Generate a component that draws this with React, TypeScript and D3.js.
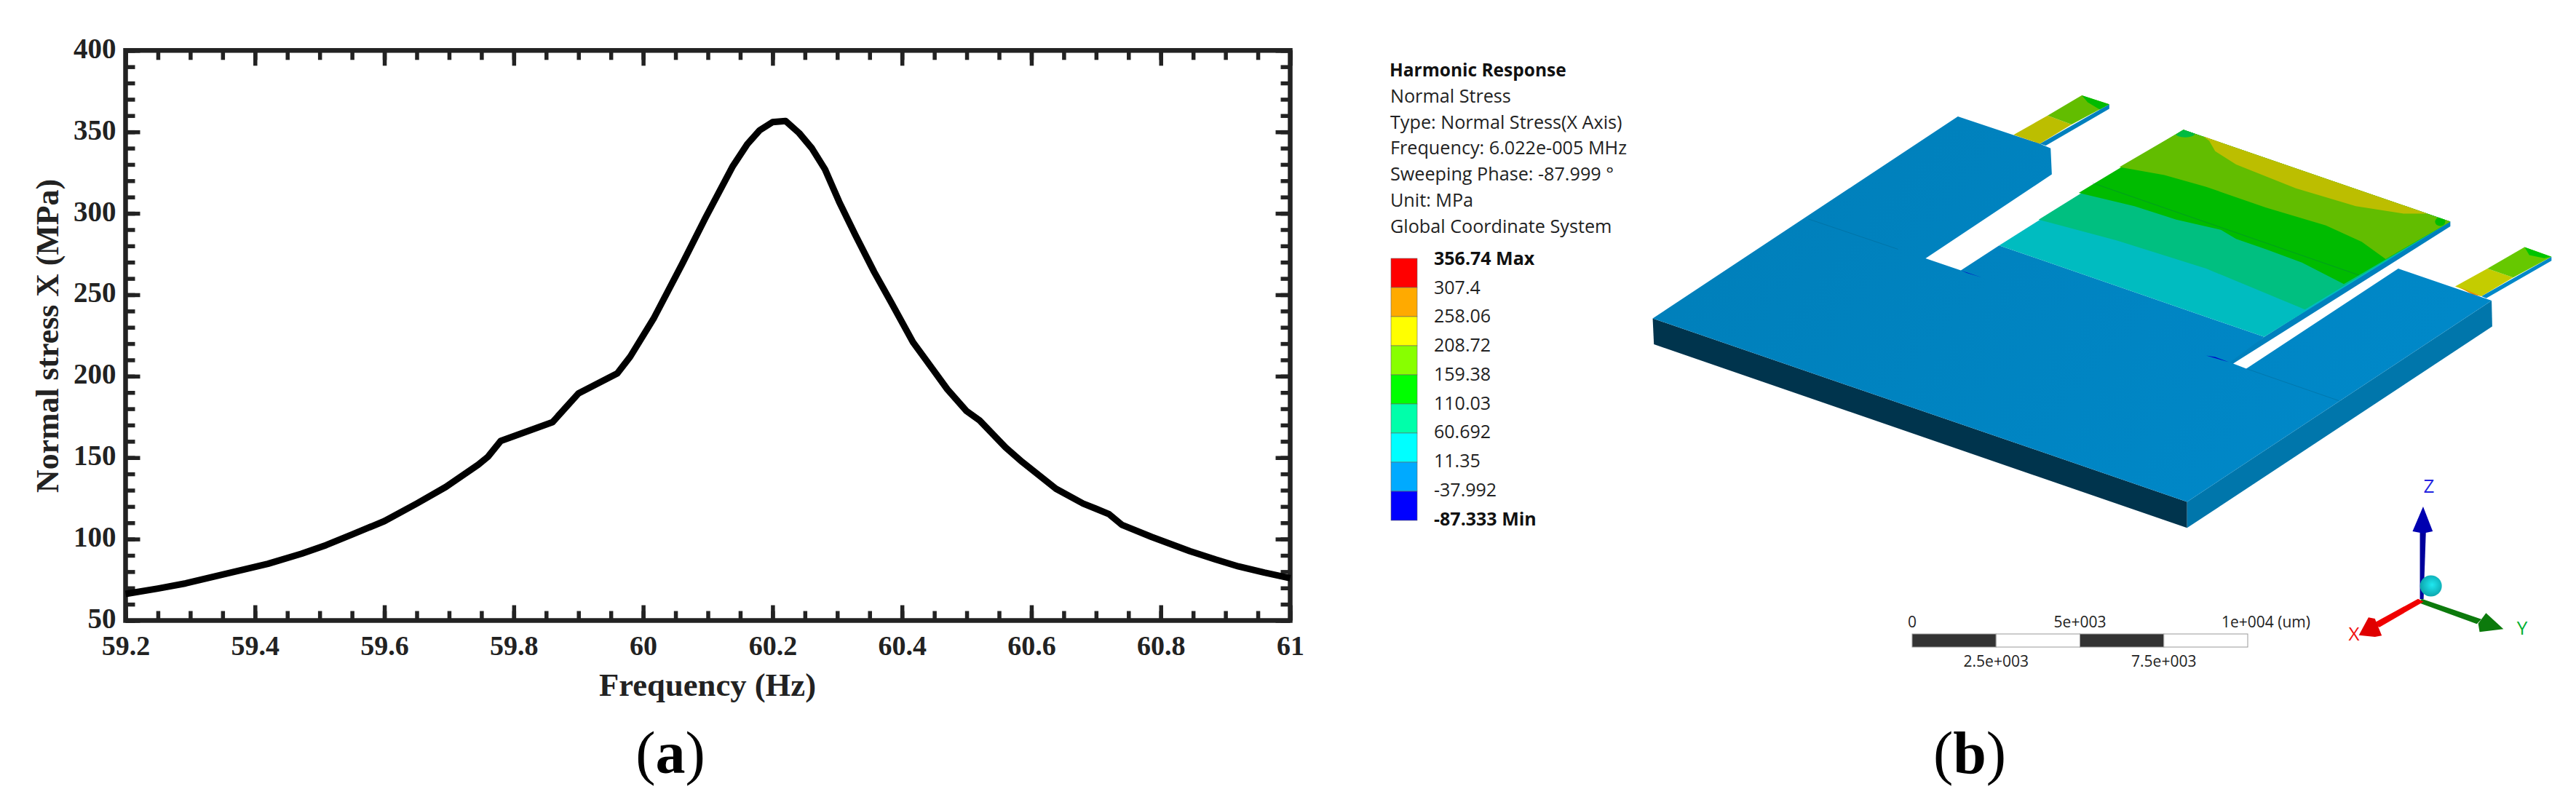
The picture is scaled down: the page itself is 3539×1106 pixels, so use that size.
import React, { useEffect, useRef } from "react";
import * as d3 from "d3";

const WIDTH = 3539;
const HEIGHT = 1106;

// panel (a)
const frequency = [
  59.2, 59.25, 59.293, 59.35, 59.42, 59.472, 59.51, 59.55, 59.6, 59.65, 59.695, 59.745, 59.76, 59.78, 59.86, 59.9,
  59.96, 59.98, 60.017, 60.06, 60.096, 60.138, 60.161, 60.18, 60.2, 60.22, 60.241, 60.261, 60.281,
  60.303, 60.328, 60.357, 60.383, 60.417, 60.438, 60.47, 60.5, 60.52, 60.56, 60.586, 60.638, 60.68,
  60.7, 60.72, 60.74, 60.786, 60.845, 60.885, 60.92, 60.96, 61,
];
const stress = [
  66.3, 69.6, 72.8, 78.2, 84.8, 91, 96.3, 102.8, 111, 121.8, 132, 145.6, 150.5, 160.3, 171.8, 189.4,
  201.7, 212, 236, 268.7, 297, 328.6, 342.5, 351, 356, 356.7, 349.3, 339.8, 327,
  307, 286.6, 264, 245.5, 220.9, 209.5, 192, 178.5, 172.8, 156.3, 147.3, 130.9, 121.8,
  118.6, 115.3, 108.7, 101.3, 92.6, 87.4, 83.2, 79.4, 76,
];
const xMajor = [59.2, 59.4, 59.6, 59.8, 60, 60.2, 60.4, 60.6, 60.8, 61];
const xMinor = d3.range(0, 37).map((i) => 59.2 + i * 0.05);
const yMajor = [50, 100, 150, 200, 250, 300, 350, 400];
const yMinor = d3.range(50, 401, 10);

// panel (b) legend
const legendTitle = "Harmonic Response";
const legendLines = [
  "Normal Stress",
  "Type: Normal Stress(X Axis)",
  "Frequency: 6.022e-005 MHz",
  "Sweeping Phase: -87.999 °",
  "Unit: MPa",
  "Global Coordinate System",
];
const bandColors = ["#ff0000", "#ffaa00", "#ffff00", "#88ff00", "#00ff00", "#00ffaa", "#00ffff", "#00aaff", "#0000ff"];
const bandLabels = ["356.74 Max", "307.4", "258.06", "208.72", "159.38", "110.03", "60.692", "11.35", "-37.992", "-87.333 Min"];
const scaleTop = ["0", "5e+003", "1e+004 (um)"];
const scaleBottom = ["2.5e+003", "7.5e+003"];

// model outline
type Pt = [number, number];
const frontFace: Pt[] = [[25, 778], [918, 1395], [918, 1483], [27, 865]];
const sideFace: Pt[] = [[918, 1395], [1427, 718], [1428, 805], [918, 1483]];
const topFace: Pt[] = [[25, 778], [535, 98], [672, 190], [690, 205], [692, 293], [481, 576], [540, 616], [604, 532], [1047, 840], [995, 930], [1017, 947], [1271, 610], [1427, 718], [918, 1395]];
const plateEdge: Pt[] = [[1047, 840], [1345, 462], [1358, 452], [1358, 468], [995, 930], [990, 925]];
const plateBase: Pt[] = [[912, 143], [1358, 452], [1047, 840], [604, 532]];
const tealBand: Pt[] = [[670, 445], [800, 515], [950, 610], [1115, 748], [1358, 452], [912, 143]];
const greenBand: Pt[] = [[737, 355], [830, 400], [900, 445], [975, 480], [1000, 510], [1050, 545], [1110, 590], [1180, 662], [1358, 452], [912, 143]];
const limeBand: Pt[] = [[805, 268], [880, 295], [950, 335], [1050, 405], [1150, 465], [1210, 520], [1250, 578], [1358, 452], [912, 143]];
const oliveBand: Pt[] = [[945, 165], [1320, 425], [1280, 425], [1200, 400], [1100, 340], [1000, 260], [965, 215], [955, 180]];
const leftTabEdge: Pt[] = [[672, 190], [788, 57], [788, 72], [682, 196]];
const leftTabOlive: Pt[] = [[628, 160], [685, 95], [725, 125], [672, 190]];
const leftTabLime: Pt[] = [[685, 95], [742, 27], [788, 57], [725, 125]];
const leftTabTip: Pt[] = [[742, 27], [788, 57], [772, 75], [752, 50]];
const leftTabHot: Pt[] = [[634, 165], [672, 190], [662, 186]];
const rightTabEdge: Pt[] = [[1410, 703], [1527, 570], [1527, 584], [1418, 710]];
const rightTabOlive: Pt[] = [[1366, 670], [1420, 610], [1463, 640], [1410, 703]];
const rightTabLime: Pt[] = [[1420, 610], [1482, 538], [1527, 570], [1463, 640]];
const rightTabTip: Pt[] = [[1482, 538], [1527, 570], [1515, 575], [1490, 565]];
const rightTabHot: Pt[] = [[1372, 672], [1410, 703], [1396, 698]];
const blueMarkA: Pt[] = [[540, 616], [575, 640], [550, 625]];
const blueMarkB: Pt[] = [[950, 903], [988, 925], [965, 908]];
const seams: Pt[][] = [[[285, 443], [435, 545]], [[1017, 947], [1172, 1055]], [[760, 322], [1205, 632]]];

// coordinate triad
const zShaft: Pt[] = [[1228, 430], [1228, 155], [1241, 155], [1236, 430]];
const zHead: Pt[] = [[1235, 48], [1256, 150], [1235, 158], [1212, 150]];
const xShaft: Pt[] = [[1224, 428], [1236, 440], [1140, 545], [1124, 532]];
const xHead: Pt[] = [[1095, 578], [1116, 505], [1130, 510], [1145, 580], [1130, 585]];
const yShaft: Pt[] = [[1232, 428], [1226, 445], [1352, 532], [1362, 512]];
const yHead: Pt[] = [[1410, 553], [1372, 487], [1355, 530], [1358, 565]];

export default function App() {
  const ref = useRef<SVGSVGElement>(null);

  useEffect(() => {
    const svg = d3.select(ref.current);
    svg.selectAll("*").remove();

    const ink = "#222222";
    const serif = "'Liberation Serif', serif";
    const sans = "'Open Sans', sans-serif";

    // ---------- panel (a)
    const x = d3.scaleLinear().domain([59.2, 61]).range([172.5, 1772.5]);
    const y = d3.scaleLinear().domain([50, 400]).range([852.5, 69.3]);
    const [x0, x1] = x.range();
    const [y0, y1] = y.range();

    const styleAxis = (g: any) => {
      g.select(".domain").remove();
      g.selectAll("line").attr("stroke", ink).attr("stroke-width", 5.5);
    };

    // ticks point inward on all four sides
    const tickLayers: [any, number, number][] = [
      [d3.axisBottom(x).tickValues(xMinor).tickSize(-13).tickFormat(() => ""), 0, y0],
      [d3.axisBottom(x).tickValues(xMajor).tickSize(-21).tickFormat(() => ""), 0, y0],
      [d3.axisTop(x).tickValues(xMinor).tickSize(-13).tickFormat(() => ""), 0, y1],
      [d3.axisTop(x).tickValues(xMajor).tickSize(-21).tickFormat(() => ""), 0, y1],
      [d3.axisLeft(y).tickValues(yMinor).tickSize(-13).tickFormat(() => ""), x0, 0],
      [d3.axisLeft(y).tickValues(yMajor).tickSize(-20).tickFormat(() => ""), x0, 0],
      [d3.axisRight(y).tickValues(yMinor).tickSize(-13).tickFormat(() => ""), x1, 0],
      [d3.axisRight(y).tickValues(yMajor).tickSize(-20).tickFormat(() => ""), x1, 0],
    ];
    tickLayers.forEach(([axis, tx, ty]) => {
      svg.append("g").attr("transform", `translate(${tx},${ty})`).call(axis).call(styleAxis);
    });

    const xLabels = svg
      .append("g")
      .attr("transform", `translate(0,${y0})`)
      .call(d3.axisBottom(x).tickValues(xMajor).tickSize(0).tickFormat((d: any) => String(d)));
    xLabels.select(".domain").remove();
    xLabels
      .selectAll("text")
      .attr("y", 47)
      .attr("dy", 0)
      .attr("fill", ink)
      .attr("font-family", serif)
      .attr("font-size", 38)
      .attr("font-weight", 600);

    const yLabels = svg
      .append("g")
      .attr("transform", `translate(${x0},0)`)
      .call(d3.axisLeft(y).tickValues(yMajor).tickSize(0).tickFormat((d: any) => String(d)));
    yLabels.select(".domain").remove();
    yLabels
      .selectAll("text")
      .attr("x", -13)
      .attr("dy", 10)
      .attr("fill", ink)
      .attr("font-family", serif)
      .attr("font-size", 39)
      .attr("font-weight", 600);

    svg
      .append("rect")
      .attr("x", x0)
      .attr("y", y1)
      .attr("width", x1 - x0)
      .attr("height", y0 - y1)
      .attr("fill", "none")
      .attr("stroke", ink)
      .attr("stroke-width", 6.5);

    const curve = d3
      .line<number>()
      .x((d) => x(d))
      .y((_, i) => y(stress[i]));
    svg
      .append("path")
      .datum(frequency)
      .attr("fill", "none")
      .attr("stroke", "#000")
      .attr("stroke-width", 9)
      .attr("stroke-linejoin", "round")
      .attr("d", curve);

    svg
      .append("text")
      .attr("transform", "translate(80,677) rotate(-90)")
      .attr("font-family", serif)
      .attr("font-size", 44)
      .attr("font-weight", "bold")
      .attr("fill", ink)
      .attr("textLength", 431)
      .attr("lengthAdjust", "spacingAndGlyphs")
      .text("Normal stress X (MPa)");

    svg
      .append("text")
      .attr("x", 823)
      .attr("y", 956)
      .attr("font-family", serif)
      .attr("font-size", 44)
      .attr("font-weight", "bold")
      .attr("fill", ink)
      .attr("textLength", 298)
      .attr("lengthAdjust", "spacingAndGlyphs")
      .text("Frequency (Hz)");

    const panelLabel = (cx: number, letter: string) => {
      const t = svg
        .append("text")
        .attr("x", cx)
        .attr("y", 1062)
        .attr("text-anchor", "middle")
        .attr("font-family", serif)
        .attr("font-size", 82)
        .attr("fill", "#000");
      t.append("tspan").text("(");
      t.append("tspan").attr("font-weight", "bold").text(letter);
      t.append("tspan").text(")");
    };
    panelLabel(921, "a");
    panelLabel(2706, "b");

    // ---------- panel (b) legend
    svg
      .append("text")
      .attr("x", 1909)
      .attr("y", 104.5)
      .attr("font-family", sans)
      .attr("font-size", 24.5)
      .attr("font-weight", "bold")
      .attr("fill", "#111")
      .text(legendTitle);

    const lineY = d3.scaleLinear().domain([0, 5]).range([140.8, 320]);
    svg
      .append("g")
      .selectAll("text")
      .data(legendLines)
      .join("text")
      .attr("x", 1910)
      .attr("y", (_, i) => lineY(i))
      .attr("font-family", sans)
      .attr("font-size", 25.2)
      .attr("fill", "#222")
      .text((d) => d);

    const band = d3.scaleBand<string>().domain(bandColors).range([355, 715]);
    svg
      .append("g")
      .selectAll("rect")
      .data(bandColors)
      .join("rect")
      .attr("x", 1911)
      .attr("y", (d) => band(d)!)
      .attr("width", 36)
      .attr("height", band.bandwidth())
      .attr("fill", (d) => d)
      .attr("stroke", "#666")
      .attr("stroke-width", 0.6);

    const bandY = d3.scalePoint<string>().domain(bandLabels).range([355.5, 713]);
    svg
      .append("g")
      .selectAll("text")
      .data(bandLabels)
      .join("text")
      .attr("x", 1970)
      .attr("y", (d) => bandY(d)! + 8.5)
      .attr("font-family", sans)
      .attr("font-size", 25)
      .attr("font-weight", (d) => (/M/.test(d) ? "bold" : "normal"))
      .attr("fill", (d) => (/M/.test(d) ? "#111" : "#222"))
      .text((d) => d);

    // ---------- panel (b) model
    const mx = d3.scaleLinear().domain([0, 1568]).range([2250, 3539]);
    const my = d3.scaleLinear().domain([0, 1568]).range([120, 760]);
    const modelPath = d3
      .line<Pt>()
      .x((d) => mx(d[0]))
      .y((d) => my(d[1]));
    const poly = (pts: Pt[], fill: any) =>
      svg
        .append("path")
        .attr("d", modelPath(pts) + "Z")
        .attr("fill", fill);

    const defs = svg.append("defs");
    const topGrad = defs
      .append("linearGradient")
      .attr("id", "topFaceFill")
      .attr("x1", 0)
      .attr("y1", 0)
      .attr("x2", 1)
      .attr("y2", 0.4);
    topGrad.append("stop").attr("offset", 0).attr("stop-color", "#007eb8");
    topGrad.append("stop").attr("offset", 1).attr("stop-color", "#0088c8");
    defs
      .append("clipPath")
      .attr("id", "plateClip")
      .append("path")
      .attr("d", modelPath(plateBase) + "Z");

    poly(leftTabEdge, "#0080bd");
    poly(leftTabOlive, "#bcbe00");
    poly(leftTabLime, "#62bd00");
    poly(leftTabTip, "#00bb00");
    poly(leftTabHot, "#e08a00");
    poly(rightTabEdge, "#0088c8");
    poly(rightTabOlive, "#c4cc00");
    poly(rightTabLime, "#66c800");
    poly(rightTabTip, "#00c400");
    poly(rightTabHot, "#e08a00");

    poly(frontFace, "#00344d");
    poly(sideFace, "#0076ab");
    poly(topFace, "url(#topFaceFill)");
    poly(plateEdge, "#0080bd");
    poly(plateBase, "#00bcc0");
    poly(tealBand, "#00bf80");
    poly(greenBand, "#00bb00");
    poly(limeBand, "#62bd00");
    poly(oliveBand, "#bcbe00");
    poly(blueMarkA, "#0000c8");
    poly(blueMarkB, "#0000c8");

    seams.forEach((s) => {
      svg
        .append("path")
        .attr("d", modelPath(s))
        .attr("fill", "none")
        .attr("stroke", "#00506e")
        .attr("stroke-opacity", 0.35)
        .attr("stroke-width", 0.8);
    });
    // little contour spots at the plate corners
    const spots = svg.append("g").attr("clip-path", "url(#plateClip)");
    spots.append("ellipse").attr("cx", mx(915)).attr("cy", my(156)).attr("rx", 13).attr("ry", 5).attr("fill", "#00bb40");
    spots.append("ellipse").attr("cx", mx(1341)).attr("cy", my(452)).attr("rx", 7).attr("ry", 6).attr("fill", "#00bb00");

    // ---------- scale bar
    const sx = d3.scaleLinear().domain([0, 1e4]).range([2627, 3088]);
    const cells = [0, 2500, 5000, 7500];
    svg
      .append("g")
      .selectAll("rect")
      .data(cells)
      .join("rect")
      .attr("x", (d) => sx(d))
      .attr("y", 871)
      .attr("width", sx(2500) - sx(0))
      .attr("height", 18)
      .attr("fill", (_, i) => (i % 2 === 0 ? "#333333" : "#ffffff"))
      .attr("stroke", "#999")
      .attr("stroke-width", 1);

    const scaleText = (tx: number, ty: number, s: string, anchor: string) =>
      svg
        .append("text")
        .attr("x", tx)
        .attr("y", ty)
        .attr("text-anchor", anchor)
        .attr("font-family", sans)
        .attr("font-size", 21)
        .attr("fill", "#222")
        .text(s);
    scaleText(sx(0), 862, scaleTop[0], "middle");
    scaleText(sx(5000), 862, scaleTop[1], "middle");
    scaleText(3052, 862, scaleTop[2], "start");
    scaleText(sx(2500), 916, scaleBottom[0], "middle");
    scaleText(sx(7500), 916, scaleBottom[1], "middle");

    // ---------- triad
    const tx = d3.scaleLinear().domain([0, 1568]).range([2550, 3539]);
    const ty = d3.scaleLinear().domain([0, 1278]).range([680, 1106]);
    const triadPath = d3
      .line<Pt>()
      .x((d) => tx(d[0]))
      .y((d) => ty(d[1]));
    const triad = (pts: Pt[], fill: string) =>
      svg
        .append("path")
        .attr("d", triadPath(pts) + "Z")
        .attr("fill", fill);

    const sphere = defs.append("radialGradient").attr("id", "ball").attr("cx", 0.55).attr("cy", 0.45).attr("r", 0.6);
    sphere.append("stop").attr("offset", 0).attr("stop-color", "#20e8f0");
    sphere.append("stop").attr("offset", 1).attr("stop-color", "#0aa0a8");

    triad(zShaft, "#00009c");
    triad(zHead, "#0000b0");
    svg.append("ellipse").attr("cx", tx(1252)).attr("cy", ty(375)).attr("rx", 15).attr("ry", 14.5).attr("fill", "url(#ball)");
    triad(yShaft, "#0c7a0c");
    triad(yHead, "#0c7a0c");
    triad(xShaft, "#f00000");
    triad(xHead, "#e00000");

    const axisLetter = (px: number, py: number, s: string, fill: string) =>
      svg
        .append("text")
        .attr("x", px)
        .attr("y", py)
        .attr("text-anchor", "middle")
        .attr("font-family", sans)
        .attr("font-size", 26)
        .attr("fill", fill)
        .text(s);
    axisLetter(3337, 677, "Z", "#2222e0");
    axisLetter(3234, 880, "X", "#f01010");
    axisLetter(3465, 872, "Y", "#00b030");
  }, []);

  return (
    <svg
      ref={ref}
      width={WIDTH}
      height={HEIGHT}
      style={{ position: "absolute", left: 0, top: 0, display: "block", background: "#fff" }}
    />
  );
}
